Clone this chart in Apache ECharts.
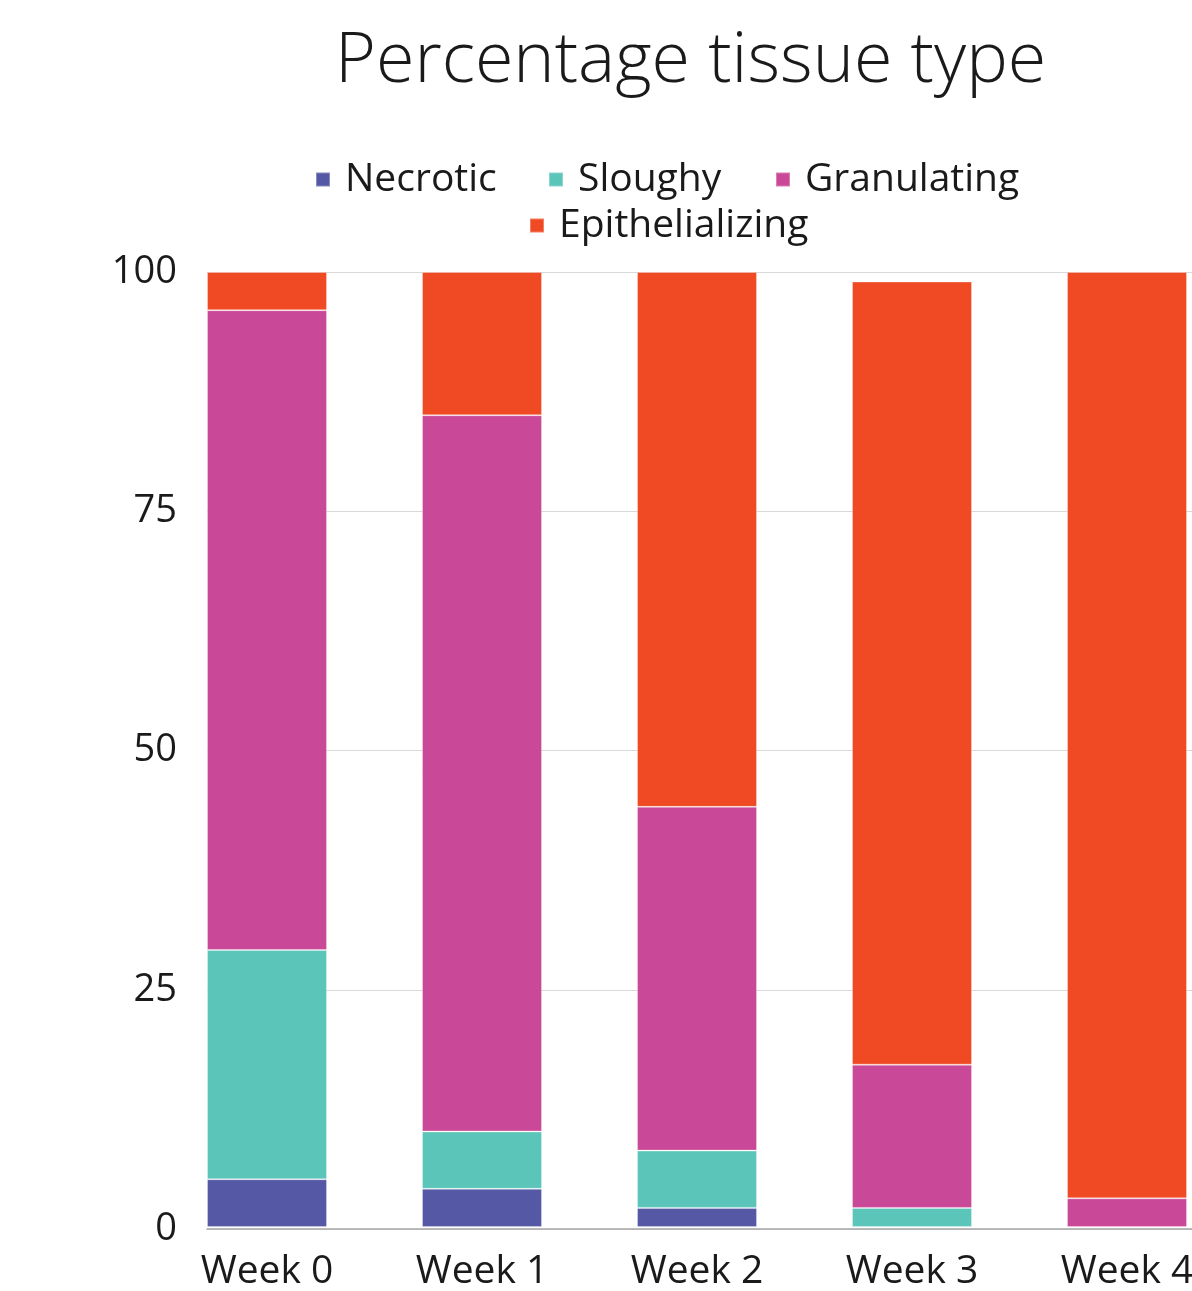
<!DOCTYPE html>
<html>
<head>
<meta charset="utf-8">
<title>Percentage tissue type</title>
<script src="https://cdn.jsdelivr.net/npm/echarts@6/dist/echarts.min.js"></script>
<style>
  html, body { margin: 0; padding: 0; background: #ffffff; overflow: hidden; }
  /* the plot runs past the right edge of the page, so the last category is clipped */
  #chart { width: 1235px; height: 1291px; }
</style>
</head>
<body>
<div id="chart"></div>
<script>
// Wound tissue composition per week (percent of wound bed)
const weeks = ['Week 0', 'Week 1', 'Week 2', 'Week 3', 'Week 4'];
const necrotic = [5, 4, 2, 0, 0];
const sloughy = [24, 6, 6, 2, 0];
const granulating = [67, 75, 36, 15, 3];
const epithelializing = [4, 15, 56, 82, 97];
const yTicks = [0, 25, 50, 75, 100];

const FONT = '"Open Sans", Lato, sans-serif';
const TEXT = '#1a1a1a';
const colors = {
  Necrotic: '#5558a5',
  Sloughy: '#5cc5b9',
  Granulating: '#c94898',
  Epithelializing: '#ef4a23'
};

const seriesDefs = [
  ['Necrotic', necrotic],
  ['Sloughy', sloughy],
  ['Granulating', granulating],
  ['Epithelializing', epithelializing]
];

// legend entries: first row of three, second row of one
const legendSlots = [
  ['Necrotic', 310, 155],
  ['Sloughy', 543, 155],
  ['Granulating', 770, 155],
  ['Epithelializing', 524, 201]
];

const chart = echarts.init(document.getElementById('chart'), null, { renderer: 'canvas' });

const legendText = { fontFamily: FONT, fontSize: 39, color: TEXT, padding: [0, 0, 0, 10] };

chart.setOption({
  animation: false,
  backgroundColor: '#ffffff',
  title: {
    text: 'Percentage tissue type',
    left: 330,
    top: 22,
    textStyle: { fontFamily: FONT, fontWeight: 300, fontSize: 70, color: TEXT }
  },
  legend: legendSlots.map(([name, left, top]) => ({
    data: [name],
    left,
    top,
    itemWidth: 14,
    itemHeight: 14,
    icon: 'rect',
    selectedMode: false,
    textStyle: legendText
  })),
  grid: [
    // frame grid: value gridlines, y labels and the baseline
    { left: 207, right: 43, top: 272, bottom: 62 },
    // bar grid: five 215px category bands, first bar flush with the frame's left edge
    { left: 159.5, right: 0.5, top: 272, bottom: 62 }
  ],
  xAxis: [
    {
      gridIndex: 0,
      type: 'value',
      min: 0,
      max: 1,
      axisLine: { show: true, lineStyle: { color: '#a6a6a6', width: 1.5 } },
      axisTick: { show: false },
      axisLabel: { show: false },
      splitLine: { show: false }
    },
    {
      gridIndex: 1,
      type: 'category',
      data: weeks,
      axisLine: { show: false },
      axisTick: { show: false },
      axisLabel: { fontFamily: FONT, fontSize: 39, color: TEXT, margin: 25 }
    }
  ],
  yAxis: [
    {
      gridIndex: 0,
      type: 'value',
      min: yTicks[0],
      max: yTicks[yTicks.length - 1],
      interval: 25,
      axisLine: { show: false },
      axisTick: { show: false },
      axisLabel: { fontFamily: FONT, fontSize: 38, color: TEXT, margin: 30, padding: [4, 0, 0, 0] },
      splitLine: { show: true, lineStyle: { color: '#d9d9d9', width: 1 } }
    },
    {
      gridIndex: 1,
      type: 'value',
      min: 0,
      max: 100,
      show: false,
      splitLine: { show: false }
    }
  ],
  series: seriesDefs.map(([name, values]) => ({
    name,
    type: 'bar',
    stack: 'tissue',
    xAxisIndex: 1,
    yAxisIndex: 1,
    barWidth: 120,
    data: values,
    itemStyle: {
      color: colors[name],
      borderColor: 'rgba(255,255,255,0.3)',
      borderWidth: 1
    }
  }))
});
</script>
</body>
</html>
